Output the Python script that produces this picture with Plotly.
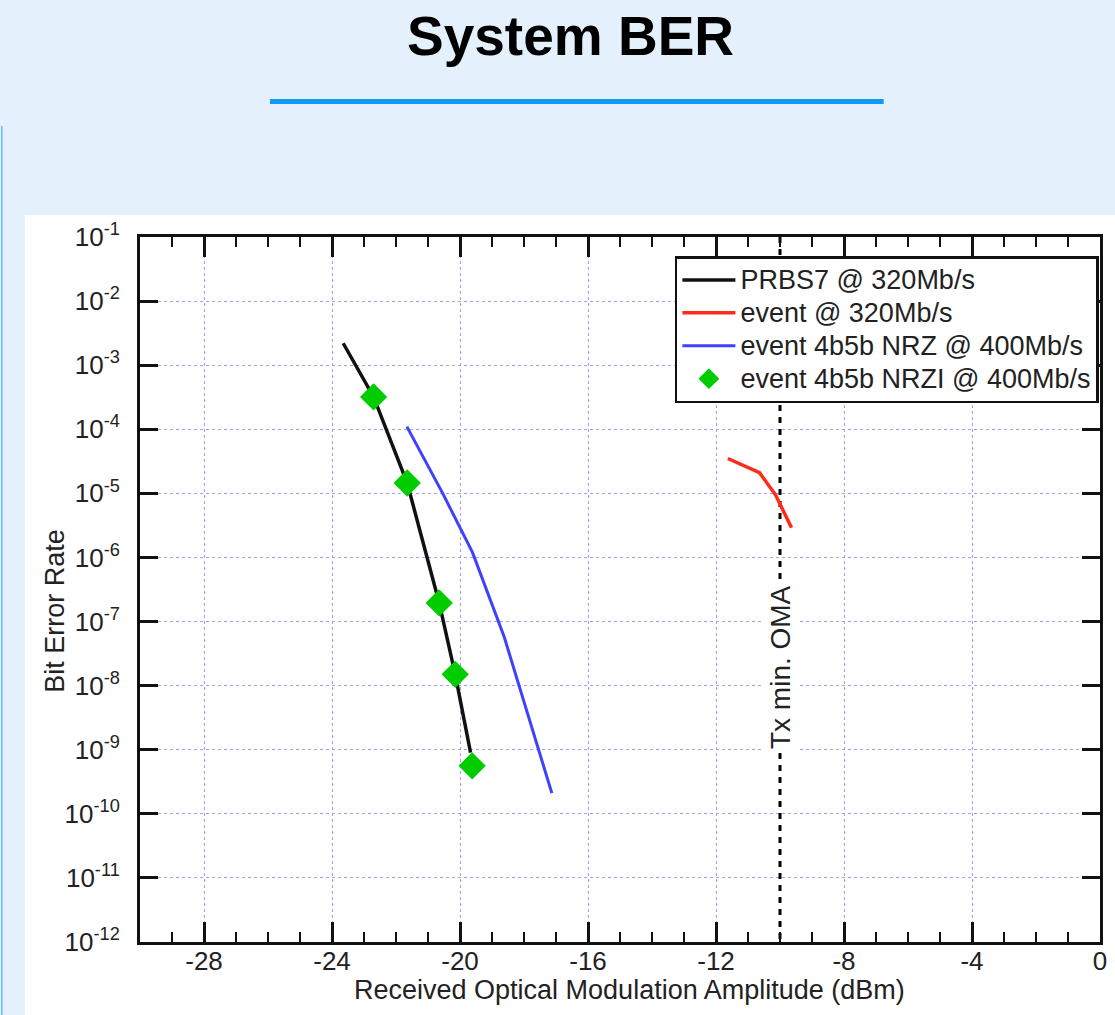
import plotly.graph_objects as go

# ---- data ----
prbs_x = [-23.65, -22.7, -21.65, -20.65, -20.15, -19.67]
prbs_y = [2.2e-3, 3.2e-4, 1.45e-5, 1.95e-7, 1.5e-8, 9.0e-10]

event_x = [-11.63, -10.64, -10.14, -9.64]
event_y = [3.5e-5, 2.1e-5, 9.5e-6, 2.9e-6]

nrz_x = [-21.66, -20.54, -19.61, -18.62, -17.13]
nrz_y = [1.1e-4, 1.0e-5, 1.2e-6, 5.8e-8, 2.1e-10]

nrzi_x = [-22.7, -21.65, -20.65, -20.15, -19.62]
nrzi_y = [3.2e-4, 1.45e-5, 1.95e-7, 1.5e-8, 5.6e-10]

tx_min_oma_x = [-10, -10]
tx_min_oma_y = [1e-1, 1e-12]

series_names = ["PRBS7 @ 320Mb/s", "event @ 320Mb/s",
                "event 4b5b NRZ @ 400Mb/s", "event 4b5b NRZI @ 400Mb/s"]

x_tickvals = [-28, -24, -20, -16, -12, -8, -4, 0]
x_ticktext = ["-28", "-24", "-20", "-16", "-12", "-8", "-4", "0"]
y_exponents = [-1, -2, -3, -4, -5, -6, -7, -8, -9, -10, -11, -12]

FONT = "Liberation Sans, Arial, Helvetica, sans-serif"
TXT = "#222222"


def legend_label(s):
    return "<span style='font-size:27px'>%s</span>" % s


fig = go.Figure()

fig.add_trace(go.Scatter(x=tx_min_oma_x, y=tx_min_oma_y, mode="lines",
                         line=dict(color="black", width=3, dash="6px,6px"),
                         showlegend=False, hoverinfo="skip"))
fig.add_trace(go.Scatter(x=prbs_x, y=prbs_y, mode="lines", name=legend_label(series_names[0]),
                         line=dict(color="#111111", width=3.5), legendgroup="a"))
fig.add_trace(go.Scatter(x=event_x, y=event_y, mode="lines", name=legend_label(series_names[1]),
                         line=dict(color="#FF2A1A", width=3.5), legendgroup="b"))
fig.add_trace(go.Scatter(x=nrz_x, y=nrz_y, mode="lines", name=legend_label(series_names[2]),
                         line=dict(color="#4040FF", width=3), legendgroup="c"))
fig.add_trace(go.Scatter(x=nrzi_x, y=nrzi_y, mode="markers", name=legend_label(series_names[3]),
                         marker=dict(symbol="diamond", size=21, color="#00CC00",
                                     line=dict(width=0)), legendgroup="d"))

axis_common = dict(
    showline=True, linecolor="#111111", linewidth=3, mirror="ticks",
    ticks="inside", tickcolor="#111111", tickwidth=3,
    showgrid=True, gridcolor="#9E9EFF", gridwidth=1, griddash="dot",
    zeroline=False, ticklabeloverflow="allow",
    tickfont=dict(family=FONT, size=26, color=TXT),
)

fig.update_xaxes(
    range=[-30, 0], tickmode="array", tickvals=x_tickvals, ticktext=x_ticktext,
    ticklen=20, ticklabelstandoff=-6,
    minor=dict(dtick=1, tick0=0, ticks="inside", ticklen=10, tickwidth=2,
               tickcolor="#111111", showgrid=False),
    **axis_common,
)
fig.update_yaxes(
    type="log", range=[-12, -1], tickmode="array",
    tickvals=[10.0 ** e for e in y_exponents],
    ticktext=["10<sup>%d</sup>" % e for e in y_exponents],
    ticklen=18, ticklabelstandoff=12,
    **axis_common,
)

W, H = 1115, 1015
SX = 1 / 0.9965          # small horizontal compensation observed in the rendering
L, R, T, B = 140, 8, 237, 73
pw, ph = W - L - R, H - T - B


def px(xp):
    return (xp * SX - L) / pw


def py(yp):
    return (H - B - yp) / ph


fig.update_layout(
    width=W, height=H,
    margin=dict(l=L, r=R, t=T, b=B),
    paper_bgcolor="#E4F1FC",
    plot_bgcolor="white",
    font=dict(family=FONT, size=26, color=TXT),
    showlegend=True,
    legend=dict(x=px(1102), y=py(256), xanchor="right", yanchor="top",
                bgcolor="white", bordercolor="#111111", borderwidth=2.5,
                font=dict(family=FONT, size=23, color=TXT),
                tracegroupgap=0, itemwidth=53),
    shapes=[
        dict(type="rect", xref="paper", yref="paper", x0=px(24), x1=px(1130),
             y0=py(1020), y1=py(215), fillcolor="white", line=dict(width=0),
             layer="below"),
        dict(type="line", xref="paper", yref="paper", x0=px(270), x1=px(886),
             y0=py(101.5), y1=py(101.5), line=dict(color="#1199F5", width=5)),
        dict(type="line", xref="paper", yref="paper", x0=px(0.8), x1=px(0.8),
             y0=py(126), y1=py(1020), line=dict(color="#66BBF8", width=1.5)),
    ],
    annotations=[
        dict(text="<b>System BER</b>", xref="paper", yref="paper",
             x=px(572), y=py(36), xanchor="center", yanchor="middle",
             showarrow=False, font=dict(family=FONT, size=55, color="black")),
        dict(text="Tx min. OMA", xref="x", yref="y", x=-10, y=-7.71,
             textangle=-90, showarrow=False, bgcolor="white", borderpad=3,
             font=dict(family=FONT, size=28, color=TXT)),
        dict(text="Bit Error Rate", xref="paper", yref="paper",
             x=px(54), y=py(611), textangle=-90, showarrow=False,
             xanchor="center", yanchor="middle",
             font=dict(family=FONT, size=27, color=TXT)),
        dict(text="Received Optical Modulation Amplitude (dBm)", xref="paper", yref="paper",
             x=px(631), y=py(990), showarrow=False, xanchor="center", yanchor="middle",
             font=dict(family=FONT, size=27, color=TXT)),
    ],
)

fig.write_html(
    "out.html",
    config={"displayModeBar": False},
    post_script=(
        "document.documentElement.style.margin='0px';"
        "document.documentElement.style.overflow='hidden';"
        "document.body.style.margin='0px';"
        "document.body.style.overflow='hidden';"
    ),
)
